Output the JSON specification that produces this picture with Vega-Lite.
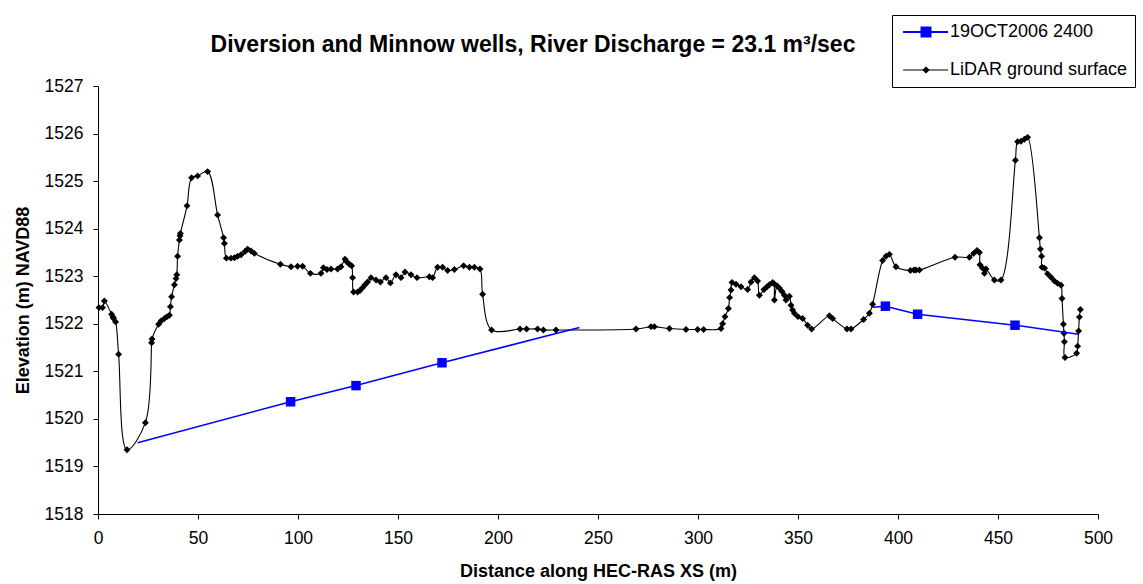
{
  "$schema": "https://vega.github.io/schema/vega-lite/v6.json",
  "width": 1000,
  "height": 428,
  "autosize": {"type": "none"},
  "padding": {"left": 98, "top": 86, "right": 45, "bottom": 70},
  "background": "white",
  "config": {
    "font": "Liberation Sans",
    "view": {"stroke": null},
    "axis": {
      "domainColor": "black", "tickColor": "black", "labelColor": "black", "titleColor": "black",
      "labelFont": "Liberation Sans", "titleFont": "Liberation Sans",
      "labelFontSize": 17.5, "titleFontSize": 18, "titleFontWeight": "bold",
      "tickSize": 5, "grid": false, "domainWidth": 1, "tickWidth": 1
    }
  },
  "title": {
    "text": "Diversion and Minnow wells, River Discharge = 23.1 m³/sec",
    "font": "Liberation Sans", "fontSize": 23, "fontWeight": "bold", "color": "black",
    "anchor": "middle", "frame": "group", "dx": -65, "offset": -42
  },
  "datasets": {
    "ground": [
      {"i":1,"x":0.5,"y":1522.34},{"i":2,"x":2.3,"y":1522.34},{"i":3,"x":3.2,"y":1522.48},{"i":4,"x":6.8,"y":1522.2},
      {"i":5,"x":7.5,"y":1522.14},{"i":6,"x":7.8,"y":1522.11},{"i":7,"x":8.8,"y":1522.04},{"i":8,"x":10.3,"y":1521.36},
      {"i":9,"x":14.5,"y":1519.35},{"i":10,"x":23.7,"y":1519.92},{"i":11,"x":26.8,"y":1521.6},{"i":12,"x":27.0,"y":1521.68},
      {"i":13,"x":30.3,"y":1521.99},{"i":14,"x":31.5,"y":1522.06},{"i":15,"x":33.2,"y":1522.11},{"i":16,"x":34.5,"y":1522.15},
      {"i":17,"x":35.7,"y":1522.18},{"i":18,"x":36.2,"y":1522.36},{"i":19,"x":36.8,"y":1522.57},{"i":20,"x":38.2,"y":1522.82},
      {"i":21,"x":39.0,"y":1522.95},{"i":22,"x":39.4,"y":1523.03},{"i":23,"x":39.8,"y":1523.42},{"i":24,"x":40.7,"y":1523.76},
      {"i":25,"x":41.0,"y":1523.85},{"i":26,"x":41.2,"y":1523.9},{"i":27,"x":44.5,"y":1524.48},{"i":28,"x":46.8,"y":1525.07},
      {"i":29,"x":49.8,"y":1525.11},{"i":30,"x":54.8,"y":1525.2},{"i":31,"x":59.8,"y":1524.29},{"i":32,"x":62.8,"y":1523.81},
      {"i":33,"x":63.2,"y":1523.69},{"i":34,"x":64.2,"y":1523.38},{"i":35,"x":66.5,"y":1523.38},{"i":36,"x":68.2,"y":1523.39},
      {"i":37,"x":69.8,"y":1523.42},{"i":38,"x":71.5,"y":1523.45},{"i":39,"x":73.5,"y":1523.52},{"i":40,"x":74.8,"y":1523.57},
      {"i":41,"x":76.5,"y":1523.53},{"i":42,"x":78.2,"y":1523.48},{"i":43,"x":91.2,"y":1523.25},{"i":44,"x":96.5,"y":1523.2},
      {"i":45,"x":99.8,"y":1523.21},{"i":46,"x":102.3,"y":1523.21},{"i":47,"x":106.2,"y":1523.06},{"i":48,"x":111.5,"y":1523.06},
      {"i":49,"x":112.7,"y":1523.18},{"i":50,"x":114.5,"y":1523.14},{"i":51,"x":116.5,"y":1523.15},{"i":52,"x":119.8,"y":1523.15},
      {"i":53,"x":121.5,"y":1523.2},{"i":54,"x":123.5,"y":1523.36},{"i":55,"x":124.5,"y":1523.3},{"i":56,"x":125.7,"y":1523.25},
      {"i":57,"x":126.8,"y":1523.22},{"i":58,"x":127.3,"y":1522.97},{"i":59,"x":127.8,"y":1522.67},{"i":60,"x":129.8,"y":1522.67},
      {"i":61,"x":131.0,"y":1522.7},{"i":62,"x":132.3,"y":1522.76},{"i":63,"x":133.5,"y":1522.82},{"i":64,"x":134.8,"y":1522.88},
      {"i":65,"x":136.5,"y":1522.97},{"i":66,"x":139.0,"y":1522.92},{"i":67,"x":141.2,"y":1522.88},{"i":68,"x":144.0,"y":1522.97},
      {"i":69,"x":146.2,"y":1522.86},{"i":70,"x":149.0,"y":1523.03},{"i":71,"x":151.5,"y":1522.97},{"i":72,"x":153.5,"y":1523.09},
      {"i":73,"x":156.5,"y":1523.03},{"i":74,"x":159.5,"y":1522.97},{"i":75,"x":165.7,"y":1522.99},{"i":76,"x":167.3,"y":1522.97},
      {"i":77,"x":169.8,"y":1523.19},{"i":78,"x":172.3,"y":1523.19},{"i":79,"x":174.8,"y":1523.12},{"i":80,"x":178.2,"y":1523.14},
      {"i":81,"x":182.8,"y":1523.22},{"i":82,"x":185.7,"y":1523.19},{"i":83,"x":188.2,"y":1523.19},{"i":84,"x":191.0,"y":1523.15},
      {"i":85,"x":192.3,"y":1522.62},{"i":86,"x":196.8,"y":1521.87},{"i":87,"x":211.0,"y":1521.89},{"i":88,"x":214.3,"y":1521.89},
      {"i":89,"x":219.8,"y":1521.89},{"i":90,"x":222.7,"y":1521.87},{"i":91,"x":229.0,"y":1521.87},{"i":92,"x":269.0,"y":1521.89},
      {"i":93,"x":276.5,"y":1521.94},{"i":94,"x":278.2,"y":1521.94},{"i":95,"x":285.7,"y":1521.9},{"i":96,"x":294.0,"y":1521.88},
      {"i":97,"x":299.8,"y":1521.88},{"i":98,"x":302.8,"y":1521.88},{"i":99,"x":311.5,"y":1521.9},{"i":100,"x":312.3,"y":1522.0},
      {"i":101,"x":313.5,"y":1522.15},{"i":102,"x":315.2,"y":1522.32},{"i":103,"x":315.8,"y":1522.55},{"i":104,"x":316.5,"y":1522.71},
      {"i":105,"x":317.0,"y":1522.87},{"i":106,"x":319.0,"y":1522.83},{"i":107,"x":321.5,"y":1522.78},{"i":108,"x":324.8,"y":1522.72},
      {"i":109,"x":326.5,"y":1522.88},{"i":110,"x":328.2,"y":1522.97},{"i":111,"x":329.8,"y":1522.9},{"i":112,"x":330.7,"y":1522.6},
      {"i":113,"x":333.0,"y":1522.72},{"i":114,"x":334.5,"y":1522.78},{"i":115,"x":335.7,"y":1522.82},{"i":116,"x":337.3,"y":1522.87},
      {"i":117,"x":338.0,"y":1522.84},{"i":118,"x":338.2,"y":1522.5},{"i":119,"x":339.5,"y":1522.8},{"i":120,"x":340.7,"y":1522.75},
      {"i":121,"x":342.0,"y":1522.68},{"i":122,"x":343.2,"y":1522.6},{"i":123,"x":344.0,"y":1522.5},{"i":124,"x":345.7,"y":1522.58},
      {"i":125,"x":346.5,"y":1522.39},{"i":126,"x":347.3,"y":1522.29},{"i":127,"x":348.2,"y":1522.22},{"i":128,"x":350.0,"y":1522.15},
      {"i":129,"x":352.3,"y":1522.11},{"i":130,"x":354.8,"y":1521.97},{"i":131,"x":356.8,"y":1521.89},{"i":132,"x":365.7,"y":1522.17},
      {"i":133,"x":367.3,"y":1522.11},{"i":134,"x":374.5,"y":1521.89},{"i":135,"x":376.5,"y":1521.89},{"i":136,"x":382.8,"y":1522.09},
      {"i":137,"x":385.7,"y":1522.22},{"i":138,"x":387.3,"y":1522.41},{"i":139,"x":392.3,"y":1523.33},{"i":140,"x":394.0,"y":1523.42},
      {"i":141,"x":395.7,"y":1523.46},{"i":142,"x":399.0,"y":1523.2},{"i":143,"x":406.2,"y":1523.12},{"i":144,"x":408.0,"y":1523.13},
      {"i":145,"x":409.0,"y":1523.13},{"i":146,"x":410.7,"y":1523.13},{"i":147,"x":428.5,"y":1523.4},{"i":148,"x":435.7,"y":1523.4},
      {"i":149,"x":437.8,"y":1523.48},{"i":150,"x":439.5,"y":1523.54},{"i":151,"x":440.7,"y":1523.5},{"i":152,"x":441.0,"y":1523.24},
      {"i":153,"x":442.3,"y":1523.17},{"i":154,"x":443.2,"y":1523.06},{"i":155,"x":444.0,"y":1523.15},{"i":156,"x":448.2,"y":1522.92},
      {"i":157,"x":451.5,"y":1522.92},{"i":158,"x":458.7,"y":1525.44},{"i":159,"x":459.8,"y":1525.83},{"i":160,"x":461.5,"y":1525.84},
      {"i":161,"x":463.2,"y":1525.88},{"i":162,"x":464.8,"y":1525.92},{"i":163,"x":470.7,"y":1523.81},{"i":164,"x":471.2,"y":1523.57},
      {"i":165,"x":471.8,"y":1523.42},{"i":166,"x":472.0,"y":1523.19},{"i":167,"x":473.3,"y":1523.17},{"i":168,"x":474.8,"y":1523.05},
      {"i":169,"x":476.5,"y":1522.98},{"i":170,"x":478.2,"y":1522.9},{"i":171,"x":479.8,"y":1522.85},{"i":172,"x":481.5,"y":1522.81},
      {"i":173,"x":482.0,"y":1522.53},{"i":174,"x":482.7,"y":1521.99},{"i":175,"x":483.0,"y":1521.8},{"i":176,"x":483.2,"y":1521.62},
      {"i":177,"x":483.5,"y":1521.29},{"i":178,"x":489.3,"y":1521.38},{"i":179,"x":489.8,"y":1521.53},{"i":180,"x":490.3,"y":1521.85},
      {"i":181,"x":490.7,"y":1522.14},{"i":182,"x":491.2,"y":1522.3}
    ],
    "water": [
      {"g":"a","m":0,"x":19.8,"y":1519.5},{"g":"a","m":1,"x":96.3,"y":1520.36},{"g":"a","m":1,"x":129.0,"y":1520.7},
      {"g":"a","m":1,"x":172.0,"y":1521.18},{"g":"a","m":0,"x":240.7,"y":1521.92},
      {"g":"b","m":0,"x":387.3,"y":1522.35},{"g":"b","m":1,"x":393.7,"y":1522.37},{"g":"b","m":1,"x":409.8,"y":1522.2},
      {"g":"b","m":1,"x":458.5,"y":1521.97},{"g":"b","m":0,"x":490.3,"y":1521.78}
    ]
  },
  "encoding": {
    "x": {"field": "x", "type": "quantitative",
      "scale": {"domain": [0, 500], "nice": false, "zero": false},
      "axis": {"values": [0,50,100,150,200,250,300,350,400,450,500], "title": "Distance along HEC-RAS XS (m)", "labelPadding": 10, "titlePadding": 16, "labelFlush": false}},
    "y": {"field": "y", "type": "quantitative",
      "scale": {"domain": [1518, 1527], "nice": false, "zero": false},
      "axis": {"values": [1518,1519,1520,1521,1522,1523,1524,1525,1526,1527], "title": "Elevation (m) NAVD88", "labelPadding": 10, "titlePadding": 12, "format": "d", "labelFlush": false}},
    "color": {"field": "s", "type": "nominal",
      "scale": {"domain": ["19OCT2006 2400", "LiDAR ground surface"], "range": ["#0000ff", "#000000"]},
      "legend": {
        "orient": "none", "legendX": 794, "legendY": -71, "title": null,
        "strokeColor": "black", "fillColor": "white", "padding": 7,
        "labelFont": "Liberation Sans", "labelFontSize": 18, "labelColor": "black", "labelOffset": 33, "labelLimit": 400,
        "clipHeight": 20, "rowPadding": 18, "symbolSize": 2025,
        "encode": {"symbols": {"update": {
          "shape": {"signal": "datum.value === '19OCT2006 2400' ? 'M-0.22,0H1.78M0.6,-0.2H1.0V0.2H0.6Z' : 'M-0.22,0H1.78M0.8,-0.14L0.94,0L0.8,0.14L0.66,0Z'"},
          "size": {"value": 2025},
          "stroke": {"scale": "color", "field": "value"},
          "fill": {"scale": "color", "field": "value"},
          "strokeWidth": {"signal": "datum.value === '19OCT2006 2400' ? 2 : 1"},
          "opacity": {"value": 1}
        }}}
      }}
  },
  "layer": [
    {"data": {"name": "ground"},
     "mark": {"type": "line", "interpolate": "catmull-rom", "strokeWidth": 1.1},
     "encoding": {"order": {"field": "i", "type": "quantitative"}, "color": {"datum": "LiDAR ground surface"}}},
    {"data": {"name": "ground"},
     "mark": {"type": "point", "shape": "diamond", "filled": true, "size": 48, "opacity": 1},
     "encoding": {"color": {"datum": "LiDAR ground surface"}}},
    {"data": {"name": "water"},
     "mark": {"type": "line", "strokeWidth": 1.5},
     "encoding": {"detail": {"field": "g"}, "color": {"datum": "19OCT2006 2400"}}},
    {"data": {"name": "water"}, "transform": [{"filter": "datum.m == 1"}],
     "mark": {"type": "point", "shape": "square", "filled": true, "size": 90, "opacity": 1},
     "encoding": {"color": {"datum": "19OCT2006 2400"}}}
  ]
}
